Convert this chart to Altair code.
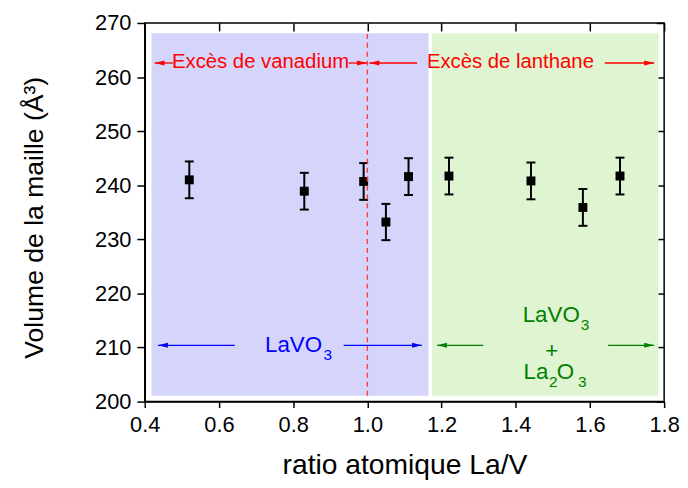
import altair as alt
import pandas as pd

# ---- measured data ----
ratio = [0.520, 0.830, 0.990, 1.050, 1.111, 1.220, 1.441, 1.581, 1.681]
volume = [241.0, 238.9, 240.7, 233.2, 241.6, 241.7, 240.8, 235.9, 241.7]
error = [3.4, 3.4, 3.4, 3.35, 3.4, 3.4, 3.4, 3.4, 3.4]

x_ticks = [0.4, 0.6, 0.8, 1.0, 1.2, 1.4, 1.6, 1.8]
y_ticks = [200, 210, 220, 230, 240, 250, 260, 270]

# shaded composition regions
region_name = ["single", "mixed"]
region_start = [0.418, 1.174]
region_end = [1.165, 1.785]
region_bottom = [201.1, 201.1]
region_top = [268.1, 268.1]

# stoichiometric ratio line
stoich_x = [1.0]

# arrows (tail, head, level, zone)
arrow_tail = [0.477, 0.950, 1.134, 1.640, 0.6425, 0.936, 1.3125, 1.649]
arrow_head = [0.4265, 0.999, 1.0055, 1.773, 0.4357, 1.147, 1.188, 1.773]
arrow_level = [262.6, 262.6, 262.6, 262.6, 210.4, 210.4, 210.4, 210.4]
arrow_zone = ["excess"] * 4 + ["single"] * 2 + ["mixed"] * 2

# red labels
excess_text = ["Excès de vanadium", "Excès de lanthane"]
excess_x = [0.712, 1.3856]
excess_y = [261.6, 261.6]

# formula pieces
formula_right_text = ["LaVO", "LaVO", "La"]
formula_right_x = [0.878, 1.5725, 1.488]
formula_right_y = [209.17, 214.71, 204.17]
formula_right_zone = ["single", "mixed", "mixed"]

formula_left_text = ["O"]
formula_left_x = [1.5105]
formula_left_y = [204.17]
formula_left_zone = ["mixed"]

formula_center_text = ["+"]
formula_center_x = [1.497]
formula_center_y = [208.14]
formula_center_zone = ["mixed"]

sub_text = ["3", "3", "2", "3"]
sub_x = [0.8815, 1.5755, 1.4895, 1.568]
sub_y = [209.17, 214.71, 204.17, 204.17]
sub_zone = ["single", "mixed", "mixed", "mixed"]

FONT = "Liberation Sans"
zone_scale = alt.Scale(domain=["excess", "single", "mixed"],
                       range=["#ff0000", "#0000ff", "#008000"])
fill_scale = alt.Scale(domain=["single", "mixed"], range=["#d5d5fb", "#dff4d0"])

xs = alt.Scale(domain=[0.4, 1.8], nice=False, zero=False)
ys = alt.Scale(domain=[200, 270], nice=False, zero=False)

points = pd.DataFrame({"ratio": ratio, "volume": volume, "err": error})
points["lo"] = points["volume"] - points["err"]
points["hi"] = points["volume"] + points["err"]

regions = pd.DataFrame({"zone": region_name, "x0": region_start, "x1": region_end,
                        "y0": region_bottom, "y1": region_top})
arrows = pd.DataFrame({"tail": arrow_tail, "head": arrow_head, "y": arrow_level,
                       "zone": arrow_zone})
arrows["dir"] = ["right" if h > t else "left" for h, t in zip(arrow_head, arrow_tail)]

PLOT_H = 382

x_bottom = alt.Axis(orient="bottom", values=x_ticks, format=".1f", title="ratio atomique La/V",
                    grid=False, tickSize=6, tickWidth=1.5, tickColor="black",
                    domainColor="black", domainWidth=1.5,
                    labelFont=FONT, labelFontSize=22, labelColor="black", labelPadding=7,
                    labelFlush=False,
                    titleFont=FONT, titleFontSize=28.5, titleFontWeight="normal", titleColor="black",
                    titleX=262, titleY=73, titleBaseline="alphabetic", titleAlign="center")
y_left = alt.Axis(orient="left", values=y_ticks, format="d", title="Volume de la maille (Å³)",
                  grid=False, tickSize=8, tickWidth=1.5, tickColor="black",
                  domainColor="black", domainWidth=1.5,
                  labelFont=FONT, labelFontSize=22, labelColor="black", labelPadding=6,
                  labelFlush=False,
                  titleFont=FONT, titleFontSize=26.8, titleFontWeight="normal", titleColor="black",
                  titleAngle=270, titleX=-103, titleY=196, titleBaseline="alphabetic",
                  titleAlign="center")
x_top = alt.Axis(orient="top", values=x_ticks, labels=False, title=None, grid=False,
                 domain=False, tickSize=8, tickWidth=1.5, tickColor="black", offset=-8)
y_right = alt.Axis(orient="right", values=y_ticks, labels=False, title=None, grid=False,
                   domain=False, tickSize=8, tickWidth=1.5, tickColor="black", offset=-8)

region_layer = alt.Chart(regions).mark_rect(stroke=None).encode(
    x=alt.X("x0:Q", scale=xs, axis=x_top), x2="x1:Q",
    y=alt.Y("y0:Q", scale=ys, axis=y_right), y2="y1:Q",
    fill=alt.Fill("zone:N", scale=fill_scale, legend=None),
)

stoich_layer = alt.Chart(pd.DataFrame({"x": stoich_x, "y0": [region_bottom[0]],
                                       "y1": [region_top[0]]})).mark_rule(
    color="#ff3b3b", strokeWidth=1.4, strokeDash=[5, 4]).encode(
    x=alt.X("x:Q", scale=xs, axis=None),
    y=alt.Y("y0:Q", scale=ys, axis=None), y2="y1:Q")

arrow_lines = alt.Chart(arrows).mark_rule(strokeWidth=1.3).encode(
    x=alt.X("tail:Q", scale=xs, axis=None), x2="head:Q",
    y=alt.Y("y:Q", scale=ys, axis=None),
    color=alt.Color("zone:N", scale=zone_scale, legend=None),
)
right_path = "M0,0 L-2,-0.5 L-2,0.5 Z"
left_path = "M0,0 L2,-0.5 L2,0.5 Z"
arrow_heads = alt.Chart(arrows).mark_point(filled=True, size=100, opacity=1, strokeWidth=0).encode(
    x=alt.X("head:Q", scale=xs, axis=None),
    y=alt.Y("y:Q", scale=ys, axis=None),
    shape=alt.Shape("dir:N", scale=alt.Scale(domain=["left", "right"],
                                             range=[left_path, right_path]), legend=None),
    color=alt.Color("zone:N", scale=zone_scale, legend=None),
)

def text_layer(df, align, size, dy=0):
    return alt.Chart(df).mark_text(align=align, baseline="alphabetic", font=FONT,
                                   fontSize=size, dy=dy).encode(
        x=alt.X("x:Q", scale=xs, axis=None),
        y=alt.Y("y:Q", scale=ys, axis=None),
        text="t:N",
        color=alt.Color("zone:N", scale=zone_scale, legend=None),
    )

excess_layer = text_layer(pd.DataFrame({"t": excess_text, "x": excess_x, "y": excess_y,
                                        "zone": ["excess", "excess"]}), "center", 20.5)
fr_layer = text_layer(pd.DataFrame({"t": formula_right_text, "x": formula_right_x,
                                    "y": formula_right_y, "zone": formula_right_zone}),
                      "right", 22.5)
fl_layer = text_layer(pd.DataFrame({"t": formula_left_text, "x": formula_left_x,
                                    "y": formula_left_y, "zone": formula_left_zone}),
                      "left", 22.5)
fc_layer = text_layer(pd.DataFrame({"t": formula_center_text, "x": formula_center_x,
                                    "y": formula_center_y, "zone": formula_center_zone}),
                      "center", 22.5)
sub_layer = text_layer(pd.DataFrame({"t": sub_text, "x": sub_x, "y": sub_y, "zone": sub_zone}),
                       "left", 15.5, dy=8.5)

err_rules = alt.Chart(points).mark_rule(color="black", strokeWidth=2).encode(
    x=alt.X("ratio:Q", scale=xs, axis=None),
    y=alt.Y("lo:Q", scale=ys, axis=None), y2="hi:Q")
cap_lo = alt.Chart(points).mark_tick(color="black", orient="horizontal", size=9,
                                     thickness=2, opacity=1).encode(
    x=alt.X("ratio:Q", scale=xs, axis=None), y=alt.Y("lo:Q", scale=ys, axis=None))
cap_hi = alt.Chart(points).mark_tick(color="black", orient="horizontal", size=9,
                                     thickness=2, opacity=1).encode(
    x=alt.X("ratio:Q", scale=xs, axis=None), y=alt.Y("hi:Q", scale=ys, axis=None))
markers = alt.Chart(points).mark_square(color="black", size=81, opacity=1).encode(
    x=alt.X("ratio:Q", scale=xs, axis=x_bottom),
    y=alt.Y("volume:Q", scale=ys, axis=y_left),
)

chart = alt.layer(
    region_layer, arrow_lines, arrow_heads, excess_layer, fr_layer, fl_layer, fc_layer,
    sub_layer, err_rules, cap_lo, cap_hi, markers, stoich_layer
).resolve_axis(x="independent", y="independent").properties(
    width=524, height=PLOT_H,
    autosize=alt.AutoSizeParams(type="none"),
    padding={"left": 138, "top": 13, "right": 16, "bottom": 79},
).configure_view(stroke="black", strokeWidth=1.5)

chart.save("out.html", embed_options={"renderer": "svg", "actions": False})
